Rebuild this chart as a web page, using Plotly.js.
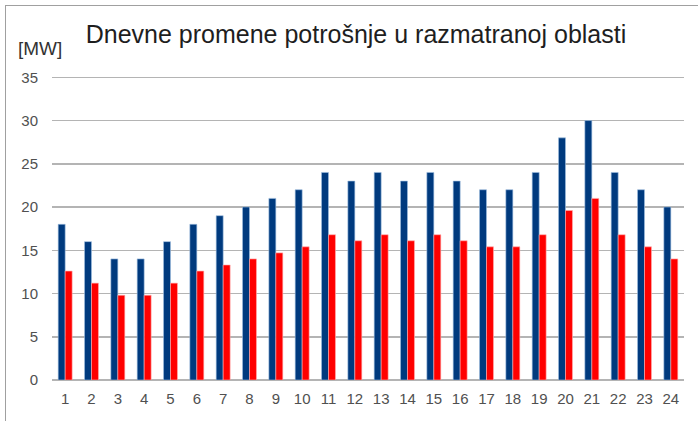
<!DOCTYPE html>
<html>
<head>
<meta charset="utf-8">
<script src="https://cdn.plot.ly/plotly-3.0.1.min.js"></script>
<style>
html,body{margin:0;padding:0;background:#fff;}
#wrap{position:relative;width:698px;height:421px;}
#chart{position:absolute;left:0;top:0;width:698px;height:421px;}
#frame{position:absolute;left:5px;top:5px;width:693px;height:416px;border-left:1px solid #a0a0a0;border-top:1px solid #a0a0a0;pointer-events:none;}
</style>
</head>
<body>
<div id="wrap"><div id="chart"></div><div id="frame"></div></div>
<script>
const hours = ['1','2','3','4','5','6','7','8','9','10','11','12','13','14','15','16','17','18','19','20','21','22','23','24'];
const seriesA = [18,16,14,14,16,18,19,20,21,22,24,23,24,23,24,23,22,22,24,28,30,24,22,20];
const seriesB = [12.6,11.2,9.8,9.8,11.2,12.6,13.3,14,14.7,15.4,16.8,16.1,16.8,16.1,16.8,16.1,15.4,15.4,16.8,19.6,21,16.8,15.4,14];
const yTicks = [0,5,10,15,20,25,30,35];

const font = 'Liberation Sans, Arial, sans-serif';
const data = [
  {type:'bar', x:hours, y:seriesA, marker:{color:'#003A7E', line:{width:0.6, color:'#9fbfe0'}}, hoverinfo:'y'},
  {type:'bar', x:hours, y:seriesB, marker:{color:'#FF0000', line:{width:0.6, color:'#ffb0b0'}}, hoverinfo:'y'}
];
const layout = {
  width:698, height:421,
  margin:{l:52, r:14, t:73, b:41},
  paper_bgcolor:'#ffffff', plot_bgcolor:'#ffffff',
  showlegend:false,
  barmode:'group', bargap:0.47, bargroupgap:0,
  title:{text:'Dnevne promene potrošnje u razmatranoj oblasti', x:0.51, xanchor:'center', y:0.918, yanchor:'middle', font:{family:font, size:25, color:'#1e1e1e'}},
  xaxis:{type:'category', showgrid:false, showline:false, zeroline:false, ticks:'', ticklabelstandoff:8,
         tickfont:{family:font, size:15, color:'#505050'}},
  yaxis:{range:[0,35.5], tickvals:yTicks, ticktext:yTicks.map(String), showgrid:true, gridcolor:'#b4b4b4', gridwidth:1.5,
         zeroline:true, zerolinecolor:'#b4b4b4', zerolinewidth:1.5, showline:false, ticks:'', ticklabelstandoff:13,
         tickfont:{family:font, size:15, color:'#505050'}},
  annotations:[{text:'[MW]', xref:'paper', yref:'paper', x:-0.057, y:1.08, xanchor:'left', yanchor:'middle', showarrow:false,
                font:{family:font, size:19, color:'#333333'}}]
};
Plotly.newPlot('chart', data, layout, {displayModeBar:false, staticPlot:true});
</script>
</body>
</html>
